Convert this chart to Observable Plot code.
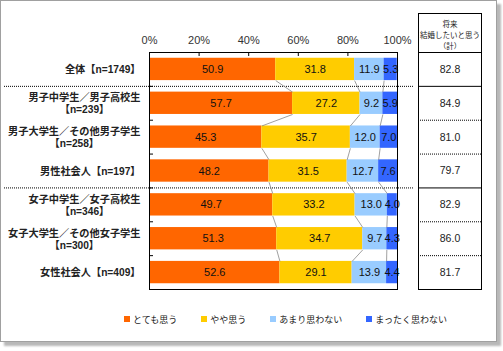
<!DOCTYPE html>
<html><head><meta charset="utf-8">
<script src="https://cdn.jsdelivr.net/npm/d3@7"></script>
<script src="https://cdn.jsdelivr.net/npm/@observablehq/plot@0.6"></script>
<style>
body{margin:0;background:#fff;}
#wrap{position:relative;width:503px;height:351px;overflow:hidden;font-family:"Liberation Sans","Noto Sans CJK JP",sans-serif;}
#box{position:absolute;left:0;top:0;width:495px;height:340px;border:1px solid #a0a0a0;box-shadow:4px 4px 2px #b8b8b8;background:#fff;}
#main,#table{position:absolute;top:0;}
#main{left:0;}
#table{left:417px;}
#legend{position:absolute;left:124px;top:312px;}
.lg-swatches{font-family:"Noto Sans CJK JP",sans-serif !important;font-size:9px !important;color:#222;margin:0 !important;}
.lg-swatches-wrap{min-height:0 !important;height:14px;}
.lg-swatch{margin-right:24px !important;}
.lg-swatch > svg{margin-right:3px !important;}
</style>
</head><body>
<div id="wrap"><div id="box"></div><div id="main"></div><div id="table"></div><div id="legend"></div></div>
<script>
// ---- data ----
const categories = [
  "全体【n=1749】",
  "男子中学生／男子高校生\n【n=239】",
  "男子大学生／その他男子学生\n【n=258】",
  "男性社会人【n=197】",
  "女子中学生／女子高校生\n【n=346】",
  "女子大学生／その他女子学生\n【n=300】",
  "女性社会人【n=409】"
];
const series = ["とても思う", "やや思う", "あまり思わない", "まったく思わない"];
const verySo     = [50.9, 57.7, 45.3, 48.2, 49.7, 51.3, 52.6];
const somewhatSo = [31.8, 27.2, 35.7, 31.5, 33.2, 34.7, 29.1];
const notMuch    = [11.9,  9.2, 12.0, 12.7, 13.0,  9.7, 13.9];
const notAtAll   = [ 5.3,  5.9,  7.0,  7.6,  4.0,  4.3,  4.4];
const totals     = [82.8, 84.9, 81.0, 79.7, 82.9, 86.0, 81.7];
const xTicks = [0, 20, 40, 60, 80, 100];
const tableHeader = "将来\n結婚したいと思う\n（計）";
const colors = ["#FF6600", "#FFCC00", "#99CCFF", "#3366FF"];

// ---- layout ----
const W = 503, H = 351, mL = 149, mR = 106, mT = 52, mB = 62;
const frameW = W - mL - mR, frameH = H - mT - mB;
const HB = 0.33;
const FONT = '"Liberation Sans","Noto Sans CJK JP",sans-serif';
const labelSize = 10.2;

const seriesValues = [verySo, somewhatSo, notMuch, notAtAll];
const segs = [];
const cums = categories.map(() => [0]);
categories.forEach((c, i) => {
  let acc = 0;
  seriesValues.forEach((arr, k) => {
    const v = arr[i];
    segs.push({i, name: series[k], x1: acc, x2: acc + v, v});
    acc += v;
    cums[i].push(acc);
  });
});
const links = [];
for (let k = 1; k <= 3; k++) {
  for (let i = 0; i < categories.length - 1; i++) {
    links.push({x1: cums[i][k], y1: i + HB, x2: cums[i + 1][k], y2: i + 1 - HB});
  }
}

const ctx = document.createElement("canvas").getContext("2d");
ctx.font = `bold ${labelSize}px ${FONT}`;
const labelMarks = categories.map((c, i) => {
  const w = ctx.measureText(c.split("\n")[0]).width;
  return Plot.text([i], {x: 0, y: d => d, text: () => c, textAnchor: "middle",
    dx: -(9 + w / 2), lineHeight: 1.2, fontSize: labelSize, fontWeight: "bold", fill: "#222"});
});

const main = Plot.plot({
  width: W, height: H,
  marginLeft: mL, marginRight: mR, marginTop: mT, marginBottom: mB,
  style: {background: "transparent", overflow: "visible", fontFamily: FONT},
  x: {domain: [0, 100]},
  y: {domain: [-0.5, categories.length - 0.5], reverse: true, axis: null},
  color: {domain: series, range: colors},
  marks: [
    Plot.ruleY([0.5, 3.5], {stroke: "#000", strokeDasharray: "1,1", insetLeft: -(mL - 4), insetRight: -16}),
    Plot.rectX(segs, {x1: "x1", x2: "x2", y1: d => d.i - HB, y2: d => d.i + HB, fill: "name"}),
    Plot.link(links, {x1: "x1", y1: "y1", x2: "x2", y2: "y2", stroke: "#888", strokeWidth: 0.8}),
    Plot.text(segs, {x: d => (d.x1 + d.x2) / 2, y: "i", text: d => d.v.toFixed(1), fontSize: 11, fill: "#111"}),
    Plot.frame({stroke: "#000"}),
    Plot.tickX(xTicks, {x: d => d, stroke: "#000", insetBottom: frameH - 4}),
    Plot.tickY(d3.range(0.5, categories.length - 1), {y: d => d, stroke: "#000", insetRight: frameW - 4}),
    Plot.axisX(xTicks, {anchor: "top", tickSize: 0, tickPadding: 9, tickFormat: d => d + "%", fontSize: 11, fill: "#333", label: null}),
    ...labelMarks
  ]
});
document.getElementById("main").append(main);

const table = Plot.plot({
  width: 65, height: 290,
  marginLeft: 1, marginRight: 1, marginTop: 13, marginBottom: 1,
  style: {background: "transparent", overflow: "visible", fontFamily: FONT},
  x: {domain: [0, 1], axis: null},
  y: {domain: [-0.5, categories.length - 0.5], range: [52, 289], axis: null},
  marks: [
    Plot.frame({stroke: "#000"}),
    Plot.ruleY([-0.5, 0.5, 3.5], {y: d => d, stroke: "#000"}),
    Plot.ruleY([1.5, 2.5, 4.5, 5.5], {y: d => d, stroke: "#000", strokeDasharray: "1,1"}),
    Plot.text(totals, {y: (d, i) => i, text: d => d.toFixed(1), fontSize: 10.5, fill: "#222"}),
    Plot.text([tableHeader], {frameAnchor: "top", dy: 21, lineAnchor: "middle", text: d => d, fontSize: 7.5, lineHeight: 1.45, fill: "#222"})
  ]
});
document.getElementById("table").append(table);

const legend = Plot.legend({color: {domain: series, range: colors}, legend: "swatches", swatchSize: 6, className: "lg"});
document.getElementById("legend").append(legend);
</script>
</body></html>
